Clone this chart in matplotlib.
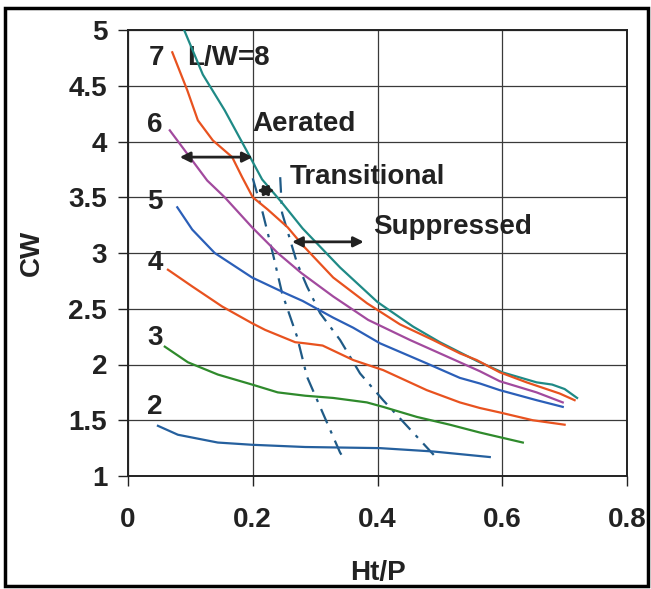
import numpy as np
import matplotlib
matplotlib.use("Agg")
import matplotlib.pyplot as plt
from matplotlib.patches import Rectangle

plt.rcParams["font.family"] = ["Liberation Sans", "DejaVu Sans"]

# ── data (Ht/P, CW) ──────────────────────────────────────────────────────────
x8 = [0.09, 0.12, 0.155, 0.19, 0.215, 0.247, 0.28, 0.34, 0.40, 0.457, 0.50, 0.56, 0.60, 0.655, 0.68, 0.70, 0.72]
y8 = [5.00, 4.60, 4.28, 3.92, 3.66, 3.45, 3.22, 2.87, 2.56, 2.34, 2.20, 2.03, 1.93, 1.84, 1.82, 1.78, 1.70]

x7 = [0.071, 0.095, 0.112, 0.136, 0.167, 0.183, 0.20, 0.224, 0.256, 0.28, 0.329, 0.383, 0.436, 0.489, 0.532, 0.559, 0.596, 0.639, 0.692, 0.716]
y7 = [4.80, 4.46, 4.19, 4.01, 3.86, 3.68, 3.50, 3.39, 3.23, 3.07, 2.78, 2.55, 2.36, 2.22, 2.10, 2.04, 1.93, 1.84, 1.74, 1.68]

x6 = [0.067, 0.103, 0.127, 0.155, 0.199, 0.24, 0.278, 0.329, 0.385, 0.452, 0.516, 0.564, 0.596, 0.655, 0.697]
y6 = [4.10, 3.83, 3.65, 3.50, 3.23, 3.00, 2.82, 2.61, 2.40, 2.22, 2.06, 1.94, 1.85, 1.75, 1.66]

x5 = [0.079, 0.103, 0.139, 0.199, 0.252, 0.28, 0.329, 0.361, 0.404, 0.479, 0.532, 0.564, 0.596, 0.655, 0.697]
y5 = [3.41, 3.21, 3.00, 2.78, 2.64, 2.57, 2.42, 2.33, 2.19, 2.01, 1.88, 1.83, 1.77, 1.68, 1.62]

x4 = [0.064, 0.103, 0.151, 0.199, 0.22, 0.268, 0.284, 0.312, 0.361, 0.409, 0.479, 0.532, 0.564, 0.596, 0.649, 0.70]
y4 = [2.85, 2.70, 2.52, 2.37, 2.31, 2.20, 2.19, 2.17, 2.04, 1.95, 1.77, 1.66, 1.61, 1.57, 1.50, 1.46]

x3 = [0.059, 0.096, 0.144, 0.199, 0.24, 0.284, 0.329, 0.383, 0.409, 0.463, 0.516, 0.564, 0.633]
y3 = [2.16, 2.02, 1.91, 1.82, 1.75, 1.72, 1.70, 1.66, 1.62, 1.53, 1.46, 1.39, 1.30]

x2 = [0.048, 0.08, 0.144, 0.199, 0.284, 0.404, 0.489, 0.58]
y2 = [1.45, 1.37, 1.30, 1.28, 1.26, 1.25, 1.22, 1.17]

# regime boundaries (dash-dot)
xb1 = [0.200, 0.216, 0.232, 0.247, 0.271, 0.287, 0.308, 0.340, 0.348]
yb1 = [3.67, 3.36, 3.00, 2.64, 2.25, 1.89, 1.62, 1.21, 1.14]
xb2 = [0.244, 0.247, 0.271, 0.287, 0.308, 0.340, 0.372, 0.409, 0.457, 0.495]
yb2 = [3.68, 3.36, 2.91, 2.70, 2.46, 2.22, 1.92, 1.68, 1.39, 1.16]

xticks = [0, 0.2, 0.4, 0.6, 0.8]
xtick_labels = ["0", "0.2", "0.4", "0.6", "0.8"]
yticks = [1, 1.5, 2, 2.5, 3, 3.5, 4, 4.5, 5]
ytick_labels = ["1", "1.5", "2", "2.5", "3", "3.5", "4", "4.5", "5"]

TEAL   = "#1f8a86"
ORANGE = "#e8521f"
PURPLE = "#a24a9e"
BLUE   = "#2b5fb8"
GREEN  = "#2f8a2c"
BLUE2  = "#25609e"
DASH   = "#1f5a86"
INK    = "#222222"

# ── figure ───────────────────────────────────────────────────────────────────
fig = plt.figure(figsize=(6.51, 5.89), dpi=100, facecolor="white")
ax = fig.add_axes([128/651, 1 - 476/589, (627-128)/651, (476-30)/589])

lw = 1.6
ax.plot(x8, y8, color=TEAL, lw=lw, zorder=4)
ax.plot(x7, y7, color=ORANGE, lw=lw, zorder=4)
ax.plot(x6, y6, color=PURPLE, lw=lw, zorder=4)
ax.plot(x5, y5, color=BLUE, lw=lw, zorder=4)
ax.plot(x4, y4, color=ORANGE, lw=lw, zorder=4)
ax.plot(x3, y3, color=GREEN, lw=lw, zorder=4)
ax.plot(x2, y2, color=BLUE2, lw=lw, zorder=4)

dd = (0, (7, 3.5, 1.5, 3.5))
ax.plot(xb1, yb1, color=DASH, lw=1.6, ls=dd, zorder=3)
ax.plot(xb2, yb2, color=DASH, lw=1.6, ls=dd, zorder=3)

# curve labels
fs = 20
tk = dict(fontsize=fs, color=INK, fontweight="bold", va="center")
ax.text(0.045, 4.75, "7", ha="center", **tk)
ax.text(0.094, 4.75, "L/W=8", ha="left", **tk)
ax.text(0.043, 4.15, "6", ha="center", **tk)
ax.text(0.043, 3.46, "5", ha="center", **tk)
ax.text(0.043, 2.91, "4", ha="center", **tk)
ax.text(0.043, 2.24, "3", ha="center", **tk)
ax.text(0.043, 1.62, "2", ha="center", **tk)

# regime labels and arrows
ax.text(0.200, 4.16, "Aerated", ha="left", **tk)
ax.text(0.259, 3.68, "Transitional", ha="left", **tk)
ax.text(0.393, 3.23, "Suppressed", ha="left", **tk)

arrow = dict(arrowstyle="<|-|>", color=INK, lw=2, mutation_scale=15, shrinkA=0, shrinkB=0)
ax.annotate("", xy=(0.083, 3.86), xytext=(0.200, 3.86), arrowprops=arrow, zorder=6)
ax.annotate("", xy=(0.207, 3.56), xytext=(0.235, 3.56), arrowprops=arrow, zorder=6)
ax.annotate("", xy=(0.263, 3.10), xytext=(0.378, 3.10), arrowprops=arrow, zorder=6)

# axes
ax.set_xlim(0, 0.8)
ax.set_ylim(1, 5)
ax.set_xticks(xticks)
ax.set_xticklabels(xtick_labels)
ax.set_yticks(yticks)
ax.set_yticklabels(ytick_labels)
for lbl in ax.get_xticklabels() + ax.get_yticklabels():
    lbl.set_fontweight("bold")
ax.grid(True, color="#3a3a3a", lw=0.9)
ax.set_axisbelow(True)
for s in ax.spines.values():
    s.set_color(INK)
    s.set_linewidth(1.4)
ax.tick_params(axis="both", direction="out", length=7, width=1.0, color=INK,
               labelsize=20, labelcolor=INK)
ax.tick_params(axis="x", pad=15)
ax.tick_params(axis="y", pad=8)

ax.set_xlabel("Ht/P", fontsize=20, fontweight="bold", color=INK, labelpad=20)
ax.set_ylabel("CW", fontsize=20, fontweight="bold", color=INK, labelpad=17)

# scan border
fig.patches.append(Rectangle((5/651, 3/589), 643/651, 578/589, transform=fig.transFigure,
                             fill=False, edgecolor="black", lw=2.5))

fig.savefig("out.png", dpi=100, facecolor="white")
